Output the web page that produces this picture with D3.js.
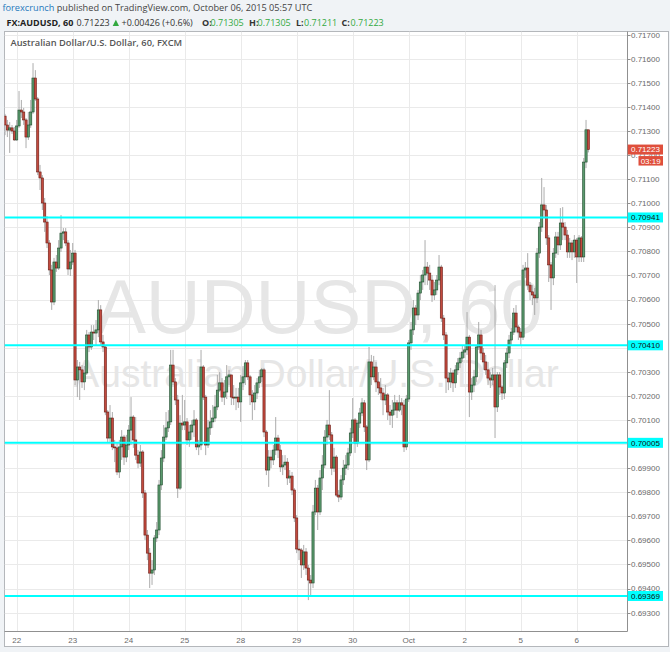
<!DOCTYPE html>
<html>
<head>
<meta charset="utf-8">
<script src="https://cdn.jsdelivr.net/npm/d3@7"></script>
<style>
  html, body { margin: 0; padding: 0; background: #f0f3f6; }
  svg { display: block; }
</style>
</head>
<body>
<script>
// AUDUSD hourly candles, Sep 21 19:00 UTC .. Oct 6 05:00 UTC.
// each hourly open is taken as the previous close
const firstOpen = 0.71362;

const closes = [
  0.71325, 0.71304, 0.71313, 0.71300, 0.71263, 0.71321, 0.71387, 0.71379, 0.71346, 0.71275,
  0.71325, 0.71379, 0.71520, 0.71433, 0.71130, 0.71105, 0.71001, 0.70922, 0.70835, 0.70723,
  0.70590, 0.70756, 0.70731, 0.70814, 0.70876, 0.70881, 0.70835, 0.70727, 0.70756, 0.70793,
  0.70266, 0.70320, 0.70308, 0.70258, 0.70295, 0.70453, 0.70403, 0.70465, 0.70461, 0.70474,
  0.70557, 0.70424, 0.70403, 0.70133, 0.70025, 0.70108, 0.69988, 0.69984, 0.69884, 0.69988,
  0.70029, 0.69946, 0.69996, 0.70058, 0.70112, 0.70017, 0.69954, 0.69921, 0.69967, 0.69797,
  0.69622, 0.69547, 0.69464, 0.69477, 0.69610, 0.69643, 0.69830, 0.69942, 0.70029, 0.70067,
  0.70092, 0.70328, 0.70258, 0.70183, 0.69817, 0.70087, 0.70079, 0.70092, 0.70017, 0.70050,
  0.70079, 0.70100, 0.69988, 0.69996, 0.70320, 0.70195, 0.69996, 0.70067, 0.70092, 0.70108,
  0.70154, 0.70224, 0.70254, 0.70195, 0.70216, 0.70279, 0.70287, 0.70195, 0.70191, 0.70195,
  0.70175, 0.70254, 0.70279, 0.70337, 0.70279, 0.70204, 0.70175, 0.70212, 0.70254, 0.70279,
  0.70308, 0.70050, 0.69892, 0.69946, 0.69934, 0.69975, 0.70025, 0.69975, 0.69905, 0.69913,
  0.69925, 0.69859, 0.69867, 0.69809, 0.69693, 0.69564, 0.69560, 0.69498, 0.69552, 0.69485,
  0.69435, 0.69423, 0.69718, 0.69817, 0.69718, 0.69859, 0.69913, 0.70029, 0.70079, 0.70038,
  0.69900, 0.69946, 0.69788, 0.69780, 0.69851, 0.69900, 0.69913, 0.69963, 0.70046, 0.70100,
  0.70004, 0.70087, 0.70129, 0.70171, 0.70071, 0.69934, 0.70341, 0.70279, 0.70320, 0.70258,
  0.70233, 0.70212, 0.70183, 0.70204, 0.70133, 0.70120, 0.70141, 0.70171, 0.70141, 0.70171,
  0.70162, 0.69988, 0.70187, 0.70420, 0.70474, 0.70565, 0.70536, 0.70627, 0.70673, 0.70702,
  0.70735, 0.70710, 0.70681, 0.70619, 0.70640, 0.70681, 0.70735, 0.70523, 0.70453, 0.70274,
  0.70258, 0.70295, 0.70254, 0.70308, 0.70337, 0.70357, 0.70382, 0.70391, 0.70444, 0.70216,
  0.70245, 0.70279, 0.70403, 0.70453, 0.70378, 0.70341, 0.70308, 0.70274, 0.70266, 0.70287,
  0.70154, 0.70287, 0.70237, 0.70212, 0.70337, 0.70378, 0.70432, 0.70465, 0.70544, 0.70486,
  0.70465, 0.70444, 0.70723, 0.70731, 0.70660, 0.70632, 0.70619, 0.70607, 0.70793, 0.70901,
  0.70993, 0.70972, 0.70856, 0.70744, 0.70690, 0.70793, 0.70860, 0.70827, 0.70918, 0.70901,
  0.70868, 0.70798, 0.70835, 0.70798, 0.70847, 0.70777, 0.70856, 0.70777, 0.71171, 0.71305,
  0.71223
];

const highs = [
  0.71371, 0.71346, 0.71337, 0.71325, 0.71317, 0.71346, 0.71466, 0.71429, 0.71396, 0.71354,
  0.71379, 0.71429, 0.71582, 0.71553, 0.71441, 0.71159, 0.71117, 0.71022, 0.70947, 0.70847,
  0.70744, 0.70773, 0.70785, 0.70847, 0.70951, 0.70897, 0.70897, 0.70847, 0.70806, 0.70835,
  0.70806, 0.70349, 0.70341, 0.70328, 0.70324, 0.70474, 0.70465, 0.70494, 0.70494, 0.70515,
  0.70598, 0.70577, 0.70453, 0.70411, 0.70141, 0.70162, 0.70133, 0.70017, 0.70004, 0.70017,
  0.70058, 0.70038, 0.70038, 0.70079, 0.70195, 0.70120, 0.70112, 0.69975, 0.69996, 0.69975,
  0.69809, 0.69643, 0.69568, 0.69518, 0.69622, 0.69676, 0.69851, 0.69975, 0.70079, 0.70133,
  0.70141, 0.70391, 0.70391, 0.70274, 0.70204, 0.70120, 0.70204, 0.70183, 0.70108, 0.70079,
  0.70100, 0.70141, 0.70108, 0.70017, 0.70391, 0.70328, 0.70204, 0.70100, 0.70141, 0.70162,
  0.70204, 0.70287, 0.70299, 0.70274, 0.70266, 0.70328, 0.70308, 0.70287, 0.70245, 0.70233,
  0.70233, 0.70287, 0.70324, 0.70349, 0.70349, 0.70287, 0.70224, 0.70245, 0.70274, 0.70308,
  0.70316, 0.70316, 0.70058, 0.69975, 0.69975, 0.69996, 0.70112, 0.70038, 0.69996, 0.69954,
  0.69954, 0.69942, 0.69892, 0.69884, 0.69817, 0.69705, 0.69602, 0.69568, 0.69581, 0.69568,
  0.69498, 0.69456, 0.69747, 0.69851, 0.69830, 0.69892, 0.69954, 0.70058, 0.70100, 0.70224,
  0.70050, 0.69984, 0.69954, 0.69809, 0.69871, 0.69934, 0.69954, 0.69984, 0.70067, 0.70191,
  0.70108, 0.70100, 0.70150, 0.70191, 0.70183, 0.70079, 0.70403, 0.70370, 0.70366, 0.70341,
  0.70299, 0.70274, 0.70233, 0.70245, 0.70212, 0.70162, 0.70183, 0.70204, 0.70183, 0.70204,
  0.70191, 0.70183, 0.70204, 0.70432, 0.70507, 0.70598, 0.70577, 0.70640, 0.70702, 0.70723,
  0.70847, 0.70756, 0.70744, 0.70702, 0.70673, 0.70702, 0.70785, 0.70744, 0.70536, 0.70465,
  0.70299, 0.70316, 0.70308, 0.70328, 0.70357, 0.70382, 0.70411, 0.70411, 0.70548, 0.70453,
  0.70274, 0.70308, 0.70411, 0.70507, 0.70474, 0.70399, 0.70370, 0.70341, 0.70299, 0.70316,
  0.70660, 0.70299, 0.70299, 0.70245, 0.70349, 0.70399, 0.70453, 0.70482, 0.70565, 0.70577,
  0.70494, 0.70482, 0.70744, 0.70756, 0.70793, 0.70673, 0.70660, 0.70648, 0.70814, 0.70922,
  0.71105, 0.71067, 0.70993, 0.70868, 0.70756, 0.70814, 0.70881, 0.70881, 0.70980, 0.70984,
  0.70922, 0.70889, 0.70856, 0.70847, 0.70868, 0.70856, 0.70868, 0.70864, 0.71188, 0.71346,
  0.71305
];

const lows = [
  0.71283, 0.71275, 0.71209, 0.71288, 0.71259, 0.71259, 0.71313, 0.71354, 0.71325, 0.71229,
  0.71263, 0.71313, 0.71371, 0.71425, 0.71117, 0.71055, 0.70972, 0.70881, 0.70814, 0.70702,
  0.70557, 0.70577, 0.70715, 0.70723, 0.70798, 0.70847, 0.70822, 0.70702, 0.70698, 0.70744,
  0.70245, 0.70195, 0.70183, 0.70233, 0.70224, 0.70287, 0.70382, 0.70391, 0.70432, 0.70411,
  0.70444, 0.70411, 0.70382, 0.70120, 0.70008, 0.70008, 0.69975, 0.69925, 0.69871, 0.69859,
  0.69934, 0.69913, 0.69925, 0.69975, 0.69996, 0.69984, 0.69934, 0.69900, 0.69905, 0.69776,
  0.69602, 0.69518, 0.69402, 0.69415, 0.69456, 0.69593, 0.69622, 0.69809, 0.69925, 0.70017,
  0.70050, 0.70079, 0.70245, 0.70162, 0.69776, 0.69809, 0.70058, 0.70058, 0.69996, 0.69988,
  0.70017, 0.70029, 0.69975, 0.69954, 0.69975, 0.70183, 0.69954, 0.69984, 0.70038, 0.70067,
  0.70092, 0.70141, 0.70216, 0.70175, 0.70162, 0.70187, 0.70245, 0.70162, 0.70162, 0.70141,
  0.70150, 0.70092, 0.70224, 0.70245, 0.70266, 0.70162, 0.70100, 0.70141, 0.70187, 0.70233,
  0.70258, 0.70029, 0.69871, 0.69822, 0.69900, 0.69913, 0.69954, 0.69942, 0.69884, 0.69871,
  0.69892, 0.69830, 0.69838, 0.69788, 0.69676, 0.69547, 0.69518, 0.69444, 0.69477, 0.69456,
  0.69352, 0.69373, 0.69402, 0.69705, 0.69643, 0.69705, 0.69809, 0.69900, 0.69996, 0.70017,
  0.69871, 0.69884, 0.69780, 0.69759, 0.69768, 0.69830, 0.69871, 0.69892, 0.69950, 0.70025,
  0.69963, 0.69988, 0.70067, 0.70116, 0.70050, 0.69892, 0.69925, 0.70245, 0.70266, 0.70216,
  0.70204, 0.70183, 0.70120, 0.70162, 0.70100, 0.70079, 0.70067, 0.70120, 0.70108, 0.70133,
  0.70120, 0.69967, 0.69975, 0.70175, 0.70391, 0.70453, 0.70494, 0.70515, 0.70598, 0.70640,
  0.70660, 0.70660, 0.70640, 0.70590, 0.70598, 0.70619, 0.70660, 0.70507, 0.70432, 0.70212,
  0.70224, 0.70233, 0.70216, 0.70233, 0.70287, 0.70316, 0.70341, 0.70357, 0.70370, 0.70112,
  0.70183, 0.70216, 0.70258, 0.70391, 0.70349, 0.70308, 0.70287, 0.70245, 0.70233, 0.70245,
  0.70025, 0.70133, 0.70204, 0.70183, 0.70187, 0.70316, 0.70357, 0.70411, 0.70453, 0.70465,
  0.70432, 0.70411, 0.70432, 0.70690, 0.70640, 0.70598, 0.70577, 0.70536, 0.70586, 0.70773,
  0.70881, 0.70938, 0.70827, 0.70673, 0.70557, 0.70660, 0.70773, 0.70785, 0.70806, 0.70847,
  0.70847, 0.70773, 0.70773, 0.70764, 0.70773, 0.70669, 0.70756, 0.70756, 0.70756, 0.71146,
  0.71211
];

// day separators (candle index of 00:00 UTC) and their labels
const dayStarts = [5, 29, 53, 77, 101, 125, 149, 173, 197, 221, 245];
const dayLabels = ['22', '23', '24', '25', '28', '29', '30', 'Oct', '2', '5', '6'];

// horizontal support / resistance levels drawn by the author
const levels = [0.70941, 0.70410, 0.70005, 0.69369];

const lastPrice = 0.71223;
const countdown = '03:19';

const W = 670, H = 652;
const plot = { left: 4.5, top: 31.5, right: 627.5, bottom: 631.5 };
const frame = { right: 668.5, bottom: 646.5 };

const svg = d3.select('body').append('svg')
    .attr('width', W)
    .attr('height', H);

const x = d3.scaleLinear().domain([0, 250]).range([5.03, 588.37]);
const y = d3.scaleLinear().domain([0.693, 0.717]).range([612.6, 34.7]);

const candles = closes.map(function (c, i) {
    const o = i === 0 ? firstOpen : closes[i - 1];
    return { i: i, o: o, c: c, h: Math.max(highs[i], o, c), l: Math.min(lows[i], o, c) };
});

// widget frame
svg.append('rect')
    .attr('x', plot.left).attr('y', plot.top)
    .attr('width', frame.right - plot.left).attr('height', frame.bottom - plot.top)
    .attr('fill', '#fff').attr('stroke', '#b4b7bb').attr('stroke-width', 1);

const defs = svg.append('defs');
defs.append('clipPath').attr('id', 'plotClip').append('rect')
    .attr('x', plot.left).attr('y', plot.top)
    .attr('width', plot.right - plot.left).attr('height', plot.bottom - plot.top);
defs.append('clipPath').attr('id', 'axisClip').append('rect')
    .attr('x', plot.right).attr('y', plot.top)
    .attr('width', frame.right - plot.right).attr('height', plot.bottom - plot.top);

const pane = svg.append('g').attr('clip-path', 'url(#plotClip)');

// grid
const priceTicks = d3.ticks(0.693, 0.717, 24);
pane.selectAll('line.hgrid')
    .data(priceTicks)
    .enter().append('line')
    .attr('class', 'hgrid')
    .attr('x1', plot.left).attr('x2', plot.right)
    .attr('y1', d => Math.round(y(d)) + 0.5).attr('y2', d => Math.round(y(d)) + 0.5)
    .attr('stroke', '#eaeaea');

pane.selectAll('line.vgrid')
    .data(dayStarts)
    .enter().append('line')
    .attr('class', 'vgrid')
    .attr('x1', d => Math.round(x(d)) + 0.5).attr('x2', d => Math.round(x(d)) + 0.5)
    .attr('y1', plot.top).attr('y2', plot.bottom)
    .attr('stroke', '#eaeaea');

// watermark
const midX = (plot.left + plot.right) / 2;
pane.append('text')
    .attr('x', midX + 3).attr('y', 333)
    .attr('text-anchor', 'middle')
    .attr('font-family', 'Liberation Sans, Arial, sans-serif')
    .attr('font-size', 76)
    .attr('fill', '#e6e6e6')
    .text('AUDUSD, 60');
pane.append('text')
    .attr('x', midX).attr('y', 387)
    .attr('text-anchor', 'middle')
    .attr('font-family', 'Liberation Sans, Arial, sans-serif')
    .attr('font-size', 39)
    .attr('fill', '#e6e6e6')
    .text('Australian Dollar/U.S. Dollar');

// chart title
svg.append('text')
    .attr('x', 10.5).attr('y', 46)
    .attr('font-family', 'Open Sans, sans-serif')
    .attr('font-size', 9.3)
    .attr('font-weight', 600)
    .attr('fill', '#555')
    .text('Australian Dollar/U.S. Dollar, 60, FXCM');

// candles
const bodyW = 2.2;
const candleG = pane.append('g');
candleG.selectAll('line.wick')
    .data(candles)
    .enter().append('line')
    .attr('class', 'wick')
    .attr('x1', d => x(d.i)).attr('x2', d => x(d.i))
    .attr('y1', d => y(d.h)).attr('y2', d => y(d.l))
    .attr('stroke', '#a3a3a3')
    .attr('stroke-width', 0.9);

candleG.selectAll('rect.body')
    .data(candles)
    .enter().append('rect')
    .attr('class', 'body')
    .attr('x', d => x(d.i) - bodyW / 2)
    .attr('width', bodyW)
    .attr('y', d => y(Math.max(d.o, d.c)))
    .attr('height', d => Math.max(0.8, Math.abs(y(d.o) - y(d.c))))
    .attr('fill', d => d.c >= d.o ? '#5a9a6d' : '#c24a3e')
    .attr('stroke', d => d.c >= d.o ? '#1e4a2c' : '#6a1b14')
    .attr('stroke-width', 0.6);

// level lines
pane.selectAll('line.level')
    .data(levels)
    .enter().append('line')
    .attr('class', 'level')
    .attr('x1', plot.left).attr('x2', plot.right)
    .attr('y1', d => y(d)).attr('y2', d => y(d))
    .attr('stroke', '#00ffff')
    .attr('stroke-width', 2);

// pane dividers
svg.append('line')
    .attr('x1', plot.right).attr('x2', plot.right)
    .attr('y1', plot.top).attr('y2', plot.bottom)
    .attr('stroke', '#909090');
svg.append('line')
    .attr('x1', plot.left).attr('x2', plot.right)
    .attr('y1', plot.bottom).attr('y2', plot.bottom)
    .attr('stroke', '#909090');

// price axis; labels sitting right under a level tag are hidden by it anyway
const axisG = svg.append('g').attr('clip-path', 'url(#axisClip)');
const fmt = d3.format('.5f');
const hidden = d => levels.some(v => Math.abs(y(v) - y(d)) < 4);
axisG.selectAll('line.ptick')
    .data(priceTicks)
    .enter().append('line')
    .attr('x1', plot.right).attr('x2', plot.right + 3)
    .attr('y1', d => Math.round(y(d)) + 0.5).attr('y2', d => Math.round(y(d)) + 0.5)
    .attr('stroke', '#909090');
axisG.selectAll('text.plabel')
    .data(priceTicks.filter(d => !hidden(d)))
    .enter().append('text')
    .attr('x', plot.right + 3.5)
    .attr('y', d => y(d) + 2.9)
    .attr('font-family', 'Liberation Sans, Arial, sans-serif')
    .attr('font-size', 8)
    .attr('fill', '#6a6a6a')
    .text(d => fmt(d));

function priceTag(g, value, bg, fg) {
    const yy = y(value);
    g.append('rect')
        .attr('x', plot.right).attr('y', yy - 5)
        .attr('width', 35.5).attr('height', 10)
        .attr('fill', bg);
    g.append('text')
        .attr('x', plot.right + 3.5).attr('y', yy + 2.9)
        .attr('font-family', 'Liberation Sans, Arial, sans-serif')
        .attr('font-size', 8)
        .attr('fill', fg)
        .text(fmt(value));
}
levels.forEach(v => priceTag(axisG, v, '#00ffff', '#111'));
priceTag(axisG, lastPrice, '#df4f3c', '#fff');
axisG.append('rect')
    .attr('x', 638.5).attr('y', y(lastPrice) + 6.5)
    .attr('width', 24.5).attr('height', 9.5)
    .attr('fill', '#df4f3c');
axisG.append('text')
    .attr('x', 650.7).attr('y', y(lastPrice) + 14.2)
    .attr('text-anchor', 'middle')
    .attr('font-family', 'Liberation Sans, Arial, sans-serif')
    .attr('font-size', 8)
    .attr('fill', '#fff')
    .text(countdown);

// time axis
svg.selectAll('text.tlabel')
    .data(dayStarts)
    .enter().append('text')
    .attr('x', d => x(d))
    .attr('y', 642.5)
    .attr('text-anchor', 'middle')
    .attr('font-family', 'Liberation Sans, Arial, sans-serif')
    .attr('font-size', 8)
    .attr('fill', '#6a6a6a')
    .text((d, i) => dayLabels[i]);

// header
const head = svg.append('g').attr('font-family', 'Open Sans, sans-serif');
const line1 = head.append('text').attr('x', 2.5).attr('y', 11).attr('font-size', 9.2);
line1.append('tspan').attr('fill', '#2679bd').text('forexcrunch');
line1.append('tspan').attr('fill', '#444').text(' published on TradingView.com, October 06, 2015 05:57 UTC');

const line2 = head.append('text').attr('y', 26).attr('font-size', 9);
function seg(xp, txt, color, bold) {
    line2.append('tspan').attr('x', xp).attr('fill', color)
        .attr('font-weight', bold ? 700 : 400).text(txt);
}
const green = '#33a93f';
seg(6.5, 'FX:AUDUSD, 60', '#222', true);
seg(76.5, fmt(lastPrice), '#333', false);
seg(121.5, '+0.00426 (+0.6%)', '#333', false);
seg(202, 'O:', '#333', true);
seg(210.5, '0.71305', green, false);
seg(249, 'H:', '#333', true);
seg(257.5, '0.71305', green, false);
seg(296, 'L:', '#333', true);
seg(304, '0.71211', green, false);
seg(341.5, 'C:', '#333', true);
seg(350.5, '0.71223', green, false);
head.append('path')
    .attr('d', 'M112.7,26 L119,26 L115.85,19.8 Z')
    .attr('fill', green);
</script>
</body>
</html>
